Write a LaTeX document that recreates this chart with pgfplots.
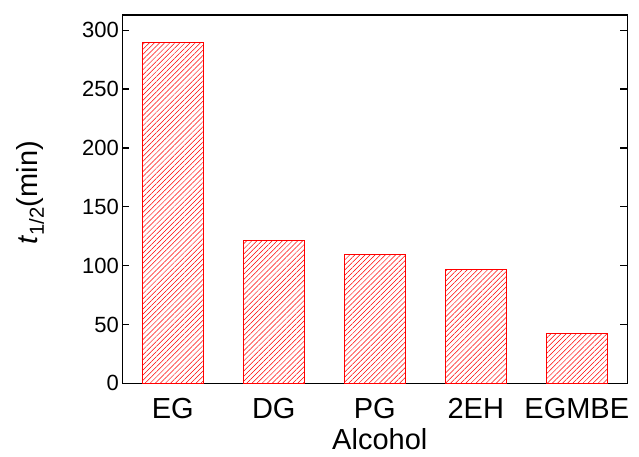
\documentclass[border=0pt]{standalone}
\usepackage{fontspec}
\setmainfont{Liberation Sans}
\usepackage{pgfplots}
\pgfplotsset{compat=1.18}
\usetikzlibrary{patterns.meta}
\begin{document}
\begin{tikzpicture}
\begin{axis}[
  scale only axis,
  width=505pt, height=368.3pt,
  xmin=-0.5, xmax=4.5,
  ymin=0, ymax=313,
  xtick={0,1,2,3,4},
  xticklabels={EG,DG,PG,2EH,EGMBE},
  x tick label style={font=\fontsize{29}{32}\selectfont, yshift=-11.5pt},
  ytick={0,50,100,150,200,250,300},
  y tick label style={font=\fontsize{22}{24}\selectfont},
  /pgf/number format/assume math mode=true,
  tick align=inside,
  major tick length=7pt,
  xtick style={draw=none},
  ytick pos=both,
  axis line style={line width=1.4pt},
  every tick/.style={black, line width=1.4pt},
  xlabel={Alcohol},
  xlabel style={font=\fontsize{29}{32}\selectfont, at={(axis description cs:0.5,0)}, anchor=north, yshift=-42pt, xshift=5pt},
  ylabel={\textit{t}\textsubscript{1/2}(min)},
  ylabel style={font=\fontsize{29}{32}\selectfont, at={(axis description cs:-0.148,0.517)}, anchor=south},
]
\addplot[ybar, bar width=60.5pt, draw=red, line width=0.9pt,
  pattern={Lines[angle=45, distance=3.6pt, line width=0.5pt]}, pattern color=red]
  coordinates {(0,290) (1,121) (2,109.5) (3,97) (4,42)};
\end{axis}
\pgfresetboundingbox
\path (current axis.south west) ++(-122.3pt,-73.7pt) coordinate (bl);
\path (current axis.north east) ++(11.7pt,15pt) coordinate (tr);
\path (bl) rectangle (tr);
\end{tikzpicture}
\end{document}
